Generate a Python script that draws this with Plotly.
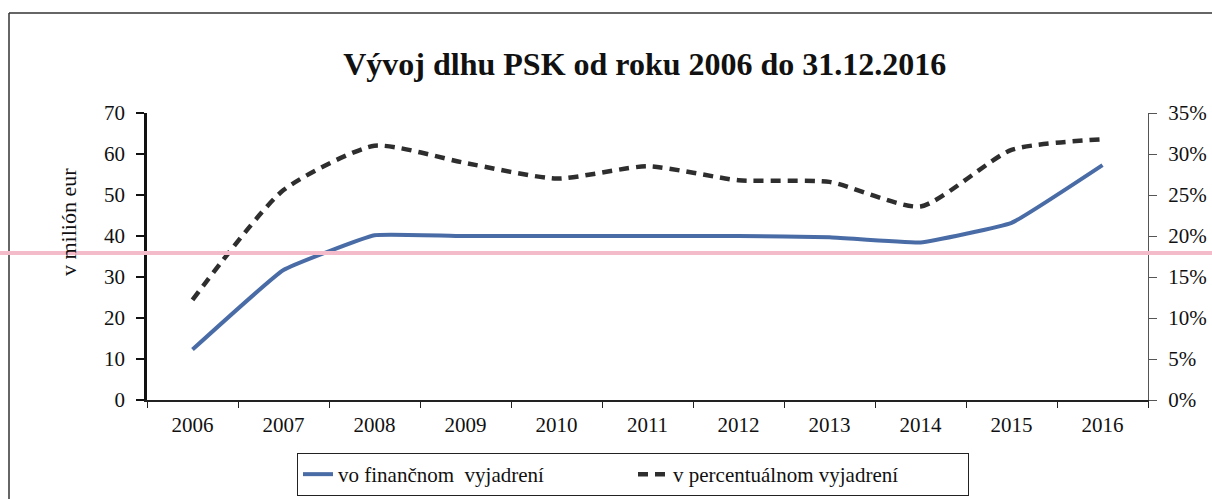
import plotly.graph_objects as go

years = ["2006", "2007", "2008", "2009", "2010", "2011", "2012", "2013", "2014", "2015", "2016"]
financne = [12.3, 31.7, 40.2, 40.0, 40.0, 40.0, 40.0, 39.7, 38.4, 43.2, 57.3]
percentualne = [12.2, 25.6, 31.0, 28.9, 27.0, 28.5, 26.8, 26.6, 23.6, 30.5, 31.8]
left_ticks = [0, 10, 20, 30, 40, 50, 60, 70]
right_ticks = [0, 5, 10, 15, 20, 25, 30, 35]

W, H = 1212, 499
L, R, T, B = 147, 64, 113, 99
pw, ph = W - L - R, H - T - B

def px(x):
    return (x - L) / pw

def py(y):
    return (H - B - y) / ph

serif = "Liberation Serif, Times New Roman, serif"

fig = go.Figure()
fig.add_trace(go.Scatter(
    x=years, y=financne, name="vo finančnom  vyjadrení", mode="lines",
    line=dict(color="#4a6ca6", width=4, shape="spline", smoothing=0.3),
))
fig.add_trace(go.Scatter(
    x=years, y=percentualne, name="v percentuálnom vyjadrení", mode="lines", yaxis="y2",
    line=dict(color="#2e2e2e", width=4.5, dash="10px,7px", shape="spline", smoothing=0.6),
))

fig.update_layout(
    width=W, height=H,
    margin=dict(l=L, r=R, t=T, b=B, autoexpand=False),
    paper_bgcolor="white", plot_bgcolor="white",
    font=dict(family=serif, size=21, color="#111"),
    title=dict(text="<b>Vývoj dlhu PSK od roku 2006 do 31.12.2016</b>",
               font=dict(family=serif, size=32, color="#111"),
               xref="container", yref="container", x=0.532, xanchor="center",
               y=1 - 64 / H, yanchor="middle"),
    xaxis=dict(type="category", range=[-0.5, 10.5], showgrid=False, showline=True,
               linecolor="#222", linewidth=1.5, automargin=False,
               ticks="outside", tickson="boundaries", ticklen=6, tickcolor="#222",
               tickfont=dict(size=21), ticklabelstandoff=5, zeroline=False),
    yaxis=dict(range=[0, 70], tickvals=left_ticks, showgrid=False, showline=True,
               linecolor="#111", linewidth=2.5, ticks="outside", ticklen=8, tickwidth=2,
               tickcolor="#111", tickfont=dict(size=21), ticklabelstandoff=7,
               automargin=False, zeroline=False),
    yaxis2=dict(range=[0, 35], tickvals=right_ticks, ticktext=[f"{v}%" for v in right_ticks],
                overlaying="y", side="right", showgrid=False, showline=True,
                linecolor="#555", linewidth=1, ticks="outside", ticklen=8, tickcolor="#555",
                tickfont=dict(size=21), ticklabelstandoff=7, automargin=False, zeroline=False),
    legend=dict(orientation="h", xref="container", yref="container",
                x=633 / W, xanchor="center", y=1 - 453 / H, yanchor="top",
                bordercolor="#222", borderwidth=1, bgcolor="white",
                font=dict(family=serif, size=21), entrywidth=290, entrywidthmode="pixels",
                tracegroupgap=0),
    showlegend=True,
    annotations=[dict(text="v milión eur", textangle=-90, xref="paper", yref="paper",
                      x=px(68), y=py(222), xanchor="center", yanchor="middle",
                      showarrow=False, font=dict(family=serif, size=22, color="#111"))],
    shapes=[
        dict(type="line", xref="paper", yref="paper", x0=px(9), x1=px(W + 5), y0=py(13), y1=py(13),
             line=dict(color="#333", width=1.5)),
        dict(type="line", xref="paper", yref="paper", x0=px(9), x1=px(9), y0=py(13), y1=py(H + 5),
             line=dict(color="#333", width=1.5)),
        dict(type="line", xref="paper", yref="paper", x0=px(-5), x1=px(W + 5), y0=py(253), y1=py(253),
             line=dict(color="#f4bccb", width=4), layer="above"),
    ],
)

fig.write_html("out.html", config={"displayModeBar": False},
               post_script="document.body.style.margin='0';document.body.style.overflow='hidden';")
